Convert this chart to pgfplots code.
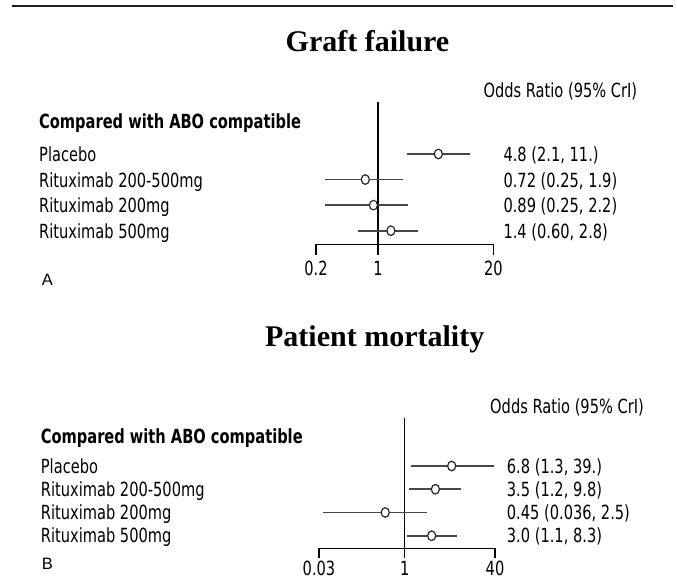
\documentclass[border=0pt]{standalone}
\usepackage{fontspec}
\usepackage{pgfplots}
\pgfplotsset{compat=1.18}
\newfontfamily\labfont[FakeStretch=0.75]{DejaVu Sans}
\newfontfamily\ttlfont{Liberation Serif}
\newfontfamily\arialfont{Liberation Sans}
\newcommand\lf{\labfont\fontsize{19.5}{22}\selectfont}
\definecolor{barc}{gray}{0.28}

\pgfplotstableread{
row or lo hi
4 4.8 2.1 11
3 0.72 0.25 1.9
2 0.89 0.25 2.2
1 1.4 0.60 2.8
}\tabA
\pgfplotstableread{
row or lo hi
4 6.8 1.3 39
3 3.5 1.2 9.8
2 0.45 0.036 2.5
1 3.0 1.1 8.3
}\tabB

\pgfplotsset{myforest/.style={
  scale only axis, axis x line*=bottom, axis y line=none,
  xminorticks=false, tick align=outside, major tick length=11pt,
  xticklabel style={font=\lf, inner sep=0pt, yshift=-6pt},
  axis line style={line width=1.4pt, black},
  every tick/.style={line width=1.4pt, black},
  clip=false},
  ci/.style={barc, line width=1.8pt},
  pt/.style={only marks, mark=*, mark size=4.8pt,
    mark options={fill=white, draw=black!85, line width=1.2pt, xscale=0.84}}
}

\begin{document}
\begin{tikzpicture}
\useasboundingbox (0,0) rectangle (677pt,-583pt);
\draw[line width=2.2pt, black!88] (12pt,-6pt) -- (673pt,-6pt);

% ---------- Panel A ----------
\node[anchor=base, inner sep=0] at (367.5pt,-51.7pt) {\ttlfont\bfseries\fontsize{30}{34}\selectfont Graft failure};
\node[anchor=base west, inner sep=0] at (483.3pt,-97.3pt) {\lf Odds Ratio (95\% CrI)};
\node[anchor=base west, inner sep=0] at (39pt,-128.3pt) {\lf\bfseries Compared with ABO compatible};
\node[anchor=base west, inner sep=0] at (39pt,-161.5pt) {\lf Placebo};
\node[anchor=base west, inner sep=0] at (39pt,-187.5pt) {\lf Rituximab 200-500mg};
\node[anchor=base west, inner sep=0] at (39pt,-212.8pt) {\lf Rituximab 200mg};
\node[anchor=base west, inner sep=0] at (39pt,-238.2pt) {\lf Rituximab 500mg};
\node[anchor=base west, inner sep=0] at (503.3pt,-161.5pt) {\lf 4.8 (2.1, 11.)};
\node[anchor=base west, inner sep=0] at (503.3pt,-187.5pt) {\lf 0.72 (0.25, 1.9)};
\node[anchor=base west, inner sep=0] at (503.3pt,-212.8pt) {\lf 0.89 (0.25, 2.2)};
\node[anchor=base west, inner sep=0] at (503.3pt,-238.2pt) {\lf 1.4 (0.60, 2.8)};
\node[anchor=base west, inner sep=0] at (41.7pt,-285pt) {\arialfont\fontsize{16.5}{19}\selectfont A};

\begin{axis}[xmode=log, myforest, at={(316pt,-244.3pt)}, anchor=south west,
  width=177.3pt, height=142.6pt, xmin=0.2, xmax=20, ymin=0.468, ymax=6.045,
  xtick={0.2,1,20}, xticklabels={0.2,1,20}]
\addplot[black, line width=1.1pt] coordinates {(1,0.468) (1,6.045)};
\addplot[ci] coordinates {(2.1,4) (11,4)};
\addplot[ci] coordinates {(0.25,3) (1.9,3)};
\addplot[ci] coordinates {(0.25,2) (2.2,2)};
\addplot[ci] coordinates {(0.60,1) (2.8,1)};
\addplot[pt] table[x=or, y=row] {\tabA};
\end{axis}

% ---------- Panel B ----------
\node[anchor=base, inner sep=0] at (374.7pt,-346.7pt) {\ttlfont\bfseries\fontsize{30}{34}\selectfont Patient mortality};
\node[anchor=base west, inner sep=0] at (490pt,-413.3pt) {\lf Odds Ratio (95\% CrI)};
\node[anchor=base west, inner sep=0] at (40.7pt,-443.3pt) {\lf\bfseries Compared with ABO compatible};
\node[anchor=base west, inner sep=0] at (40.7pt,-473pt) {\lf Placebo};
\node[anchor=base west, inner sep=0] at (40.7pt,-496.3pt) {\lf Rituximab 200-500mg};
\node[anchor=base west, inner sep=0] at (40.7pt,-519.7pt) {\lf Rituximab 200mg};
\node[anchor=base west, inner sep=0] at (40.7pt,-542.7pt) {\lf Rituximab 500mg};
\node[anchor=base west, inner sep=0] at (506.7pt,-473pt) {\lf 6.8 (1.3, 39.)};
\node[anchor=base west, inner sep=0] at (506.7pt,-496.3pt) {\lf 3.5 (1.2, 9.8)};
\node[anchor=base west, inner sep=0] at (506.7pt,-519.7pt) {\lf 0.45 (0.036, 2.5)};
\node[anchor=base west, inner sep=0] at (506.7pt,-542.7pt) {\lf 3.0 (1.1, 8.3)};
\node[anchor=base west, inner sep=0] at (41.7pt,-569pt) {\arialfont\fontsize{16.5}{19}\selectfont B};

\begin{axis}[xmode=log, myforest, at={(319pt,-548.3pt)}, anchor=south west,
  width=176pt, height=130.3pt, xmin=0.03, xmax=40, ymin=0.458, ymax=6.066,
  major tick length=10pt, xticklabel style={yshift=3.6pt},
  xtick={0.03,1,40}, xticklabels={0.03,1,40}]
\addplot[black, line width=1.1pt] coordinates {(1,0.458) (1,6.066)};
\addplot[ci] coordinates {(1.3,4) (39,4)};
\addplot[ci] coordinates {(1.2,3) (9.8,3)};
\addplot[ci] coordinates {(0.036,2) (2.5,2)};
\addplot[ci] coordinates {(1.1,1) (8.3,1)};
\addplot[pt] table[x=or, y=row] {\tabB};
\end{axis}
\end{tikzpicture}
\end{document}
